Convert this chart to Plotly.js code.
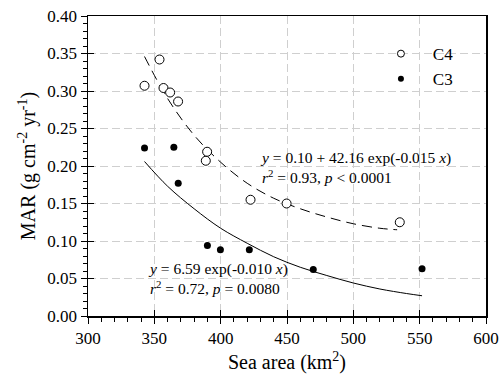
<!DOCTYPE html>
<html>
<head>
<meta charset="utf-8">
<script src="https://cdn.plot.ly/plotly-3.0.1.min.js"></script>
<style>html,body{margin:0;padding:0;background:#fff;}#chart{width:499px;height:377px;}</style>
</head>
<body>
<div id="chart"></div>
<script>
// Observed points
const c4Area = [342.6, 353.9, 356.9, 361.9, 367.9, 388.8, 389.8, 422.5, 449.7, 535.0];
const c4Mar  = [0.307, 0.342, 0.304, 0.298, 0.286, 0.207, 0.219, 0.155, 0.150, 0.125];
const c3Area = [342.6, 364.7, 368.0, 390.0, 399.8, 421.6, 469.8, 551.8];
const c3Mar  = [0.224, 0.225, 0.177, 0.094, 0.0885, 0.0885, 0.062, 0.063];
// Fitted curves
const c4FitArea = [342.6, 360, 380, 400, 420, 440, 460, 480, 500, 520, 533];
const c4FitMar  = [0.346, 0.290, 0.241, 0.205, 0.177, 0.157, 0.143, 0.132, 0.123, 0.117, 0.115];
const c3FitArea = [342.6, 360, 380, 400, 420, 440, 460, 480, 500, 520, 540, 551.8];
const c3FitMar  = [0.206, 0.173, 0.143, 0.117, 0.097, 0.079, 0.065, 0.054, 0.044, 0.036, 0.030, 0.027];
// Labels
const seriesNames = ['C4', 'C3'];
const xTitle = 'Sea area (km<sup>2</sup>)';
const yTitle = 'MAR (g cm<sup>-2</sup> yr<sup>-1</sup>)';
const eq4 = '<i>y</i> = 0.10 + 42.16 exp(-0.015 <i>x</i>)<br><i>r</i><sup>2</sup> = 0.93, <i>p</i> &lt; 0.0001';
const eq3 = '<i>y</i> = 6.59 exp(-0.010 <i>x</i>)<br><i>r</i><sup>2</sup> = 0.72, <i>p</i> = 0.0080';

const FONT = '"Liberation Serif", "Times New Roman", Times, serif';

const traces = [
  {x: c4FitArea, y: c4FitMar, mode: 'lines', line: {color: '#000', width: 1, dash: '10px,6px', shape: 'spline'}, showlegend: false, hoverinfo: 'skip'},
  {x: c3FitArea, y: c3FitMar, mode: 'lines', line: {color: '#000', width: 1, shape: 'spline'}, showlegend: false, hoverinfo: 'skip'},
  {x: c4Area, y: c4Mar, mode: 'markers', marker: {symbol: 'circle', size: 9, color: '#fff', line: {color: '#000', width: 1}}, showlegend: false},
  {x: c3Area, y: c3Mar, mode: 'markers', marker: {symbol: 'circle', size: 7, color: '#000', line: {width: 0}}, showlegend: false},
  {x: [null], y: [null], name: '\u2002\u2009' + seriesNames[0], mode: 'markers', marker: {symbol: 'circle', size: 7, color: '#fff', line: {color: '#000', width: 1}}},
  {x: [null], y: [null], name: '\u2002\u2009' + seriesNames[1], mode: 'markers', marker: {symbol: 'circle', size: 6, color: '#000', line: {width: 0}}},
  // overlay axes for inward half of the major ticks
  {x: [null], y: [null], xaxis: 'x2', yaxis: 'y2', showlegend: false, hoverinfo: 'skip'}
];

const gridStyle = {showgrid: true, gridcolor: '#cfcfcf', gridwidth: 1, griddash: '8px,4px'};

const layout = {
  width: 499, height: 377,
  margin: {l: 88, r: 13, t: 16, b: 61},
  paper_bgcolor: '#fff', plot_bgcolor: '#fff',
  font: {family: FONT, color: '#000', size: 17},
  showlegend: true,
  legend: {x: 0.736, y: 0.933, xanchor: 'left', yanchor: 'top', bgcolor: 'rgba(0,0,0,0)', font: {family: FONT, size: 17}, tracegroupgap: 0},
  xaxis: Object.assign({
    range: [300, 600], dtick: 50, tick0: 300,
    showline: true, linecolor: '#000', linewidth: 1.5, mirror: true,
    ticks: 'outside', ticklen: 6, tickwidth: 1, tickcolor: '#000',
    minor: {dtick: 10, ticks: 'outside', ticklen: 4, tickcolor: '#000', showgrid: false},
    zeroline: false,
    tickfont: {family: FONT, size: 17},
    title: {text: xTitle, font: {family: FONT, size: 20}, standoff: 8}
  }, gridStyle),
  yaxis: Object.assign({
    range: [0, 0.40], dtick: 0.05, tick0: 0, tickformat: '.2f',
    showline: true, linecolor: '#000', linewidth: 1.5, mirror: true,
    ticks: 'outside', ticklen: 6, tickwidth: 1, tickcolor: '#000',
    minor: {dtick: 0.01, ticks: 'outside', ticklen: 4, tickcolor: '#000', showgrid: false},
    zeroline: false,
    tickfont: {family: FONT, size: 17},
    title: {text: yTitle, font: {family: FONT, size: 20}, standoff: 6}
  }, gridStyle),
  xaxis2: {overlaying: 'x', range: [300, 600], dtick: 50, tick0: 300, ticks: 'inside', ticklen: 6, tickcolor: '#000', showticklabels: false, showgrid: false, zeroline: false, showline: false, anchor: 'y2', side: 'bottom'},
  yaxis2: {overlaying: 'y', range: [0, 0.40], dtick: 0.05, tick0: 0, ticks: 'inside', ticklen: 6, tickcolor: '#000', showticklabels: false, showgrid: false, zeroline: false, showline: false, anchor: 'x2', side: 'left'},
  annotations: [
    {x: 428.0, y: 0.1976, xref: 'x', yref: 'y', text: eq4, showarrow: false, xanchor: 'left', yanchor: 'middle', align: 'left', font: {family: FONT, size: 15.5, color: '#000'}},
    {x: 343.9, y: 0.0505, xref: 'x', yref: 'y', text: eq3, showarrow: false, xanchor: 'left', yanchor: 'middle', align: 'left', font: {family: FONT, size: 15.5, color: '#000'}}
  ]
};

Plotly.newPlot('chart', traces, layout, {displayModeBar: false, staticPlot: true});
</script>
</body>
</html>
